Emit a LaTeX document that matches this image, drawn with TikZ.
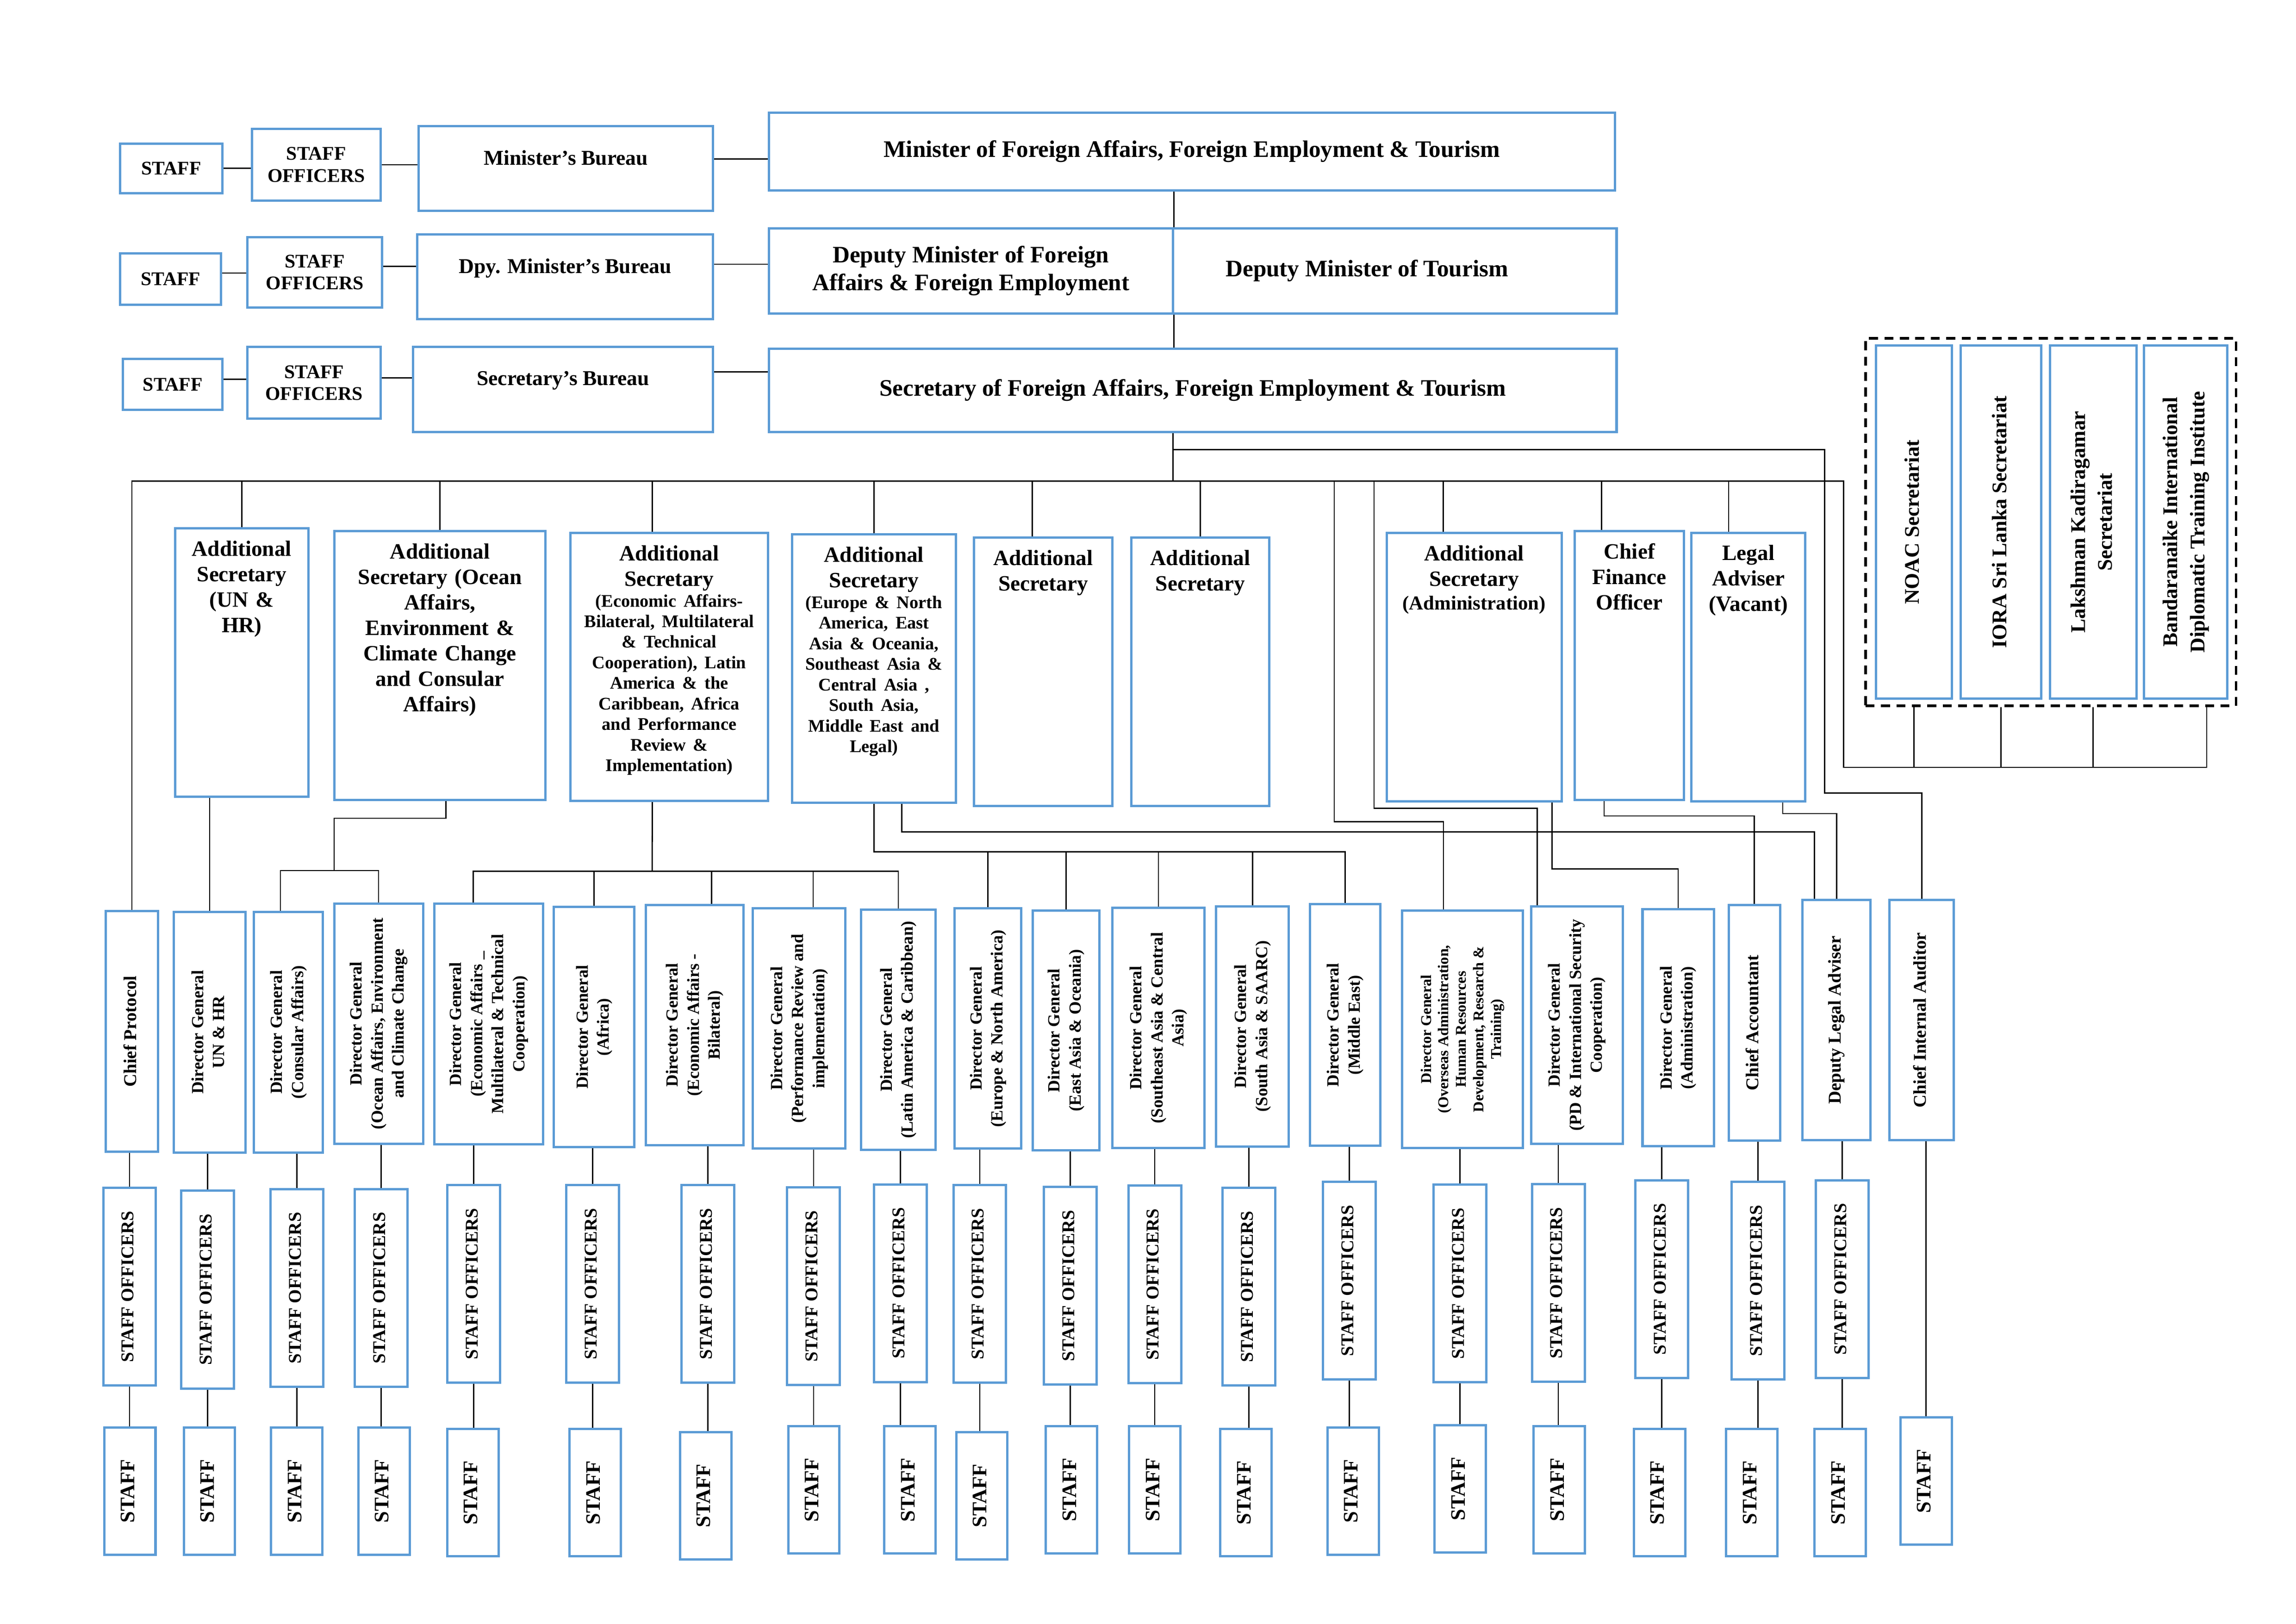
\documentclass[tikz,border=0pt]{standalone}
\usepackage{fontspec}
\setmainfont{Liberation Serif}
\usepackage{graphicx}
\definecolor{boxblue}{RGB}{91,155,213}
\newcommand{\vlab}[1]{\rotatebox{90}{\makebox[0pt]{\begin{tabular}{@{}c@{}}#1\end{tabular}}}}
\begin{document}
\begin{tikzpicture}[x=0.02cm, y=-0.02cm,
    box/.style={draw=boxblue, line width=0.9pt, fill=white, inner sep=1pt},
    boxspan/.style n args={4}{at={({(#1+#3)/2},{(#2+#4)/2})}, minimum width={(#3-#1)*0.02cm}, minimum height={(#4-#2)*0.02cm}},
    link/.style={line width=0.5pt},
    mainfont/.style={font=\bfseries\fontsize{9.2}{10.8}\selectfont, align=center},
    smallfont/.style={font=\bfseries\fontsize{7.5}{8.5}\selectfont, align=center},
    burtext/.style={anchor=north, inner sep=0pt, yshift=-0.34cm, font=\bfseries\fontsize{8.2}{10}\selectfont},
    astext/.style={anchor=north, inner sep=0pt, yshift=-0.18cm, text width=2.8cm, align=center, font=\bfseries\fontsize{8.5}{9.9}\selectfont},
    dgfont/.style={font=\bfseries\fontsize{6.6}{8.2}\selectfont},
    dgone/.style={font=\bfseries\fontsize{7}{8.2}\selectfont},
    dgsmall/.style={font=\bfseries\fontsize{5.8}{6.8}\selectfont},
    secfont/.style={font=\bfseries\fontsize{8.1}{10.5}\selectfont},
    sofont/.style={font=\bfseries\fontsize{7}{8}\selectfont, minimum width=0.72cm, minimum height=2.7cm},
    stfont/.style={font=\bfseries\fontsize{8}{9}\selectfont, minimum width=0.7cm, minimum height=1.74cm}]
  \useasboundingbox (0,0) rectangle (1568,1109);

  % minister, deputies, secretary
  \node[box, smallfont, boxspan={82}{98}{152}{132}] (mstaff) {STAFF};
  \node[box, smallfont, boxspan={172}{88}{260}{137}] (moff) {STAFF\\OFFICERS};
  \node[box, boxspan={286}{86}{487}{144}, label={[burtext]north:{Minister's Bureau}}] (mbur) {};
  \node[box, mainfont, boxspan={525}{77}{1103}{130}] (minister) {Minister of Foreign Affairs, Foreign Employment \& Tourism};
  \node[box, smallfont, boxspan={82}{173}{151}{208}] (dstaff) {STAFF};
  \node[box, smallfont, boxspan={169}{162}{261}{210}] (doff) {STAFF\\OFFICERS};
  \node[box, boxspan={285}{160}{487}{218}, label={[burtext]north:{Dpy. Minister's Bureau}}] (dbur) {};
  \node[box, mainfont, boxspan={525}{156}{801}{214}] (dmfa) {Deputy Minister of Foreign\\Affairs \& Foreign Employment};
  \node[box, mainfont, boxspan={801}{156}{1104}{214}] (dmt) {Deputy Minister of Tourism\hspace*{0.76cm}};
  \node[box, smallfont, boxspan={84}{245}{152}{280}] (sstaff) {STAFF};
  \node[box, smallfont, boxspan={169}{237}{260}{286}] (soff) {STAFF\\OFFICERS};
  \node[box, boxspan={282}{237}{487}{295}, label={[burtext]north:{Secretary's Bureau}}] (sbur) {};
  \node[box, mainfont, boxspan={525}{238}{1104}{295}] (secretary) {Secretary of Foreign Affairs, Foreign Employment \& Tourism};

  % secretariats
  \node[draw, line width=1pt, dash pattern=on 3.5pt off 2.5pt, boxspan={1274}{231}{1527}{482}] (grp) {};
  \node[box, secfont, boxspan={1281}{236}{1333}{477}] (noac) {\vlab{NOAC Secretariat}};
  \node[box, secfont, boxspan={1339}{236}{1394}{477}] (iora) {\vlab{IORA Sri Lanka Secretariat}};
  \node[box, secfont, boxspan={1400}{236}{1459}{477}] (lkis) {\vlab{Lakshman Kadiragamar\\Secretariat}};
  \node[box, secfont, boxspan={1464}{236}{1521}{477}] (bidti) {\vlab{Bandaranaike International\\Diplomatic Training Institute}};

  % additional secretaries
  \node[box, boxspan={119.5}{360.7}{210.7}{544.2}, label={[astext]north:{Additional\\Secretary\\(UN \&\\HR)}}] (asun) {};
  \node[box, boxspan={228.3}{362.7}{372.6}{546.2}, label={[astext]north:{Additional\\Secretary (Ocean\\Affairs,\\Environment \&\\Climate Change\\and Consular\\Affairs)}}] (asoc) {};
  \node[box, boxspan={389.4}{364}{524.6}{547}, label={[astext]north:{{Additional\\Secretary\endgraf}{\fontsize{6.9}{8}\selectfont(Economic Affairs-\\Bilateral, Multilateral\\\& Technical\\Cooperation), Latin\\America \& the\\Caribbean, Africa\\and Performance\\Review \&\\Implementation)\endgraf}}}] (asec) {};
  \node[box, boxspan={540.8}{365}{652.9}{548.2}, label={[astext]north:{{Additional\\Secretary\endgraf}{\fontsize{6.9}{8}\selectfont(Europe \& North\\America, East\\Asia \& Oceania,\\Southeast Asia \&\\Central Asia ,\\South Asia,\\Middle East and\\Legal)\endgraf}}}] (aseu) {};
  \node[box, boxspan={665.3}{367}{759.5}{550.4}, label={[astext]north:{Additional\\Secretary}}] (asx) {};
  \node[box, boxspan={772.6}{367}{866.8}{550.4}, label={[astext]north:{Additional\\Secretary}}] (asy) {};
  \node[box, boxspan={947}{364}{1066.4}{547.4}, label={[astext]north:{{Additional\\Secretary\endgraf}{\fontsize{7.7}{9.1}\selectfont(Administration)\endgraf}}}] (asad) {};
  \node[box, boxspan={1075.5}{362.7}{1150}{546.3}, label={[astext]north:{Chief\\Finance\\Officer}}] (cfo) {};
  \node[box, boxspan={1155.2}{363.8}{1232.8}{547.1}, label={[astext]north:{Legal\\Adviser\\(Vacant)}}] (lgl) {};

  % directors general
  \node[box, dgone, boxspan={72.3}{622.3}{107.8}{786.4}] (dg1) {\vlab{Chief Protocol}};
  \node[box, dgfont, boxspan={118.7}{622.8}{167.7}{787}] (dg2) {\vlab{Director General\\UN \& HR}};
  \node[box, dgfont, boxspan={173.5}{622.8}{220.6}{787}] (dg3) {\vlab{Director General\\(Consular Affairs)}};
  \node[box, dgfont, boxspan={228.2}{617}{288.9}{781}] (dg4) {\vlab{Director General\\(Ocean Affairs, Environment\\and Climate Change}};
  \node[box, dgfont, boxspan={296.5}{617.2}{370.9}{781.4}] (dg5) {\vlab{Director General\\(Economic Affairs \_\\Multilateral \& Technical\\Cooperation)}};
  \node[box, dgfont, boxspan={378.2}{619.2}{433.3}{783.5}] (dg6) {\vlab{Director General\\(Africa)}};
  \node[box, dgfont, boxspan={441.2}{618}{507.6}{782}] (dg7) {\vlab{Director General\\(Economic Affairs -\\Bilateral)}};
  \node[box, dgfont, boxspan={514.2}{620.4}{577.4}{784.4}] (dg8) {\vlab{Director General\\(Performance Review and\\implementation)}};
  \node[box, dgfont, boxspan={588}{621.2}{639}{785.3}] (dg9) {\vlab{Director General\\(Latin America \& Caribbean)}};
  \node[box, dgfont, boxspan={652}{620.3}{697.5}{784.4}] (dg10) {\vlab{Director General\\(Europe \& North America)}};
  \node[box, dgfont, boxspan={705.4}{621.7}{750.8}{785.7}] (dg11) {\vlab{Director General\\(East Asia \& Oceania)}};
  \node[box, dgfont, boxspan={759.5}{620}{822.7}{784}] (dg12) {\vlab{Director General\\(Southeast Asia \& Central\\Asia)}};
  \node[box, dgfont, boxspan={830.5}{618.9}{880.1}{782.9}] (dg13) {\vlab{Director General\\(South Asia \& SAARC)}};
  \node[box, dgfont, boxspan={894.5}{617.4}{942.7}{782.5}] (dg14) {\vlab{Director General\\(Middle East)}};
  \node[box, dgsmall, boxspan={957.6}{621.7}{1040}{784}] (dg15) {\vlab{Director General\\(Overseas Administration,\\Human Resources\\Development, Research \&\\Training)}};
  \node[box, dgfont, boxspan={1045.6}{619}{1108.2}{781}] (dg16) {\vlab{Director General\\(PD \& International Security\\Cooperation)}};
  \node[box, dgfont, boxspan={1121.7}{621}{1170.4}{782.8}] (dg17) {\vlab{Director General\\(Administration)}};
  \node[box, dgone, boxspan={1180.5}{617.9}{1215.8}{779}] (dg18) {\vlab{Chief Accountant}};
  \node[box, dgone, boxspan={1231}{614.6}{1277.4}{778.7}] (dg19) {\vlab{Deputy Legal Adviser}};
  \node[box, dgone, boxspan={1290.4}{614.6}{1334.4}{778.7}] (dg20) {\vlab{Chief Internal Auditor}};

  % staff officers and staff
  \foreach \i/\x/\y in {1/88.5/878.7, 2/141.8/880.7, 3/202.7/879.5, 4/260.3/879.5, 5/323.6/876.7,
      6/404.7/876.7, 7/483.5/876.7, 8/555.6/878.3, 9/614.8/876.3, 10/669.1/876.7, 11/730.9/878,
      12/788.6/877.2, 13/852.8/878.7, 14/921.4/874.5, 15/997/876.5, 16/1064.2/876.1,
      17/1134.9/873.5, 18/1200.5/874.5, 19/1258.1/873.5}
    \node[box, sofont] (so\i) at (\x,\y) {\vlab{STAFF OFFICERS}};
  \foreach \i/\x/\y in {1/88.7/1018.3, 2/143/1018.3, 3/202.7/1018.3, 4/262.3/1018.3, 5/323/1019.4,
      6/406.5/1019.4, 7/481.9/1021.4, 8/555.8/1017.5, 9/621.4/1017.5, 10/670.5/1021.4,
      11/731.7/1017.4, 12/788.6/1017.4, 13/850.9/1019.4, 14/924.1/1018.3, 15/997.2/1016.7,
      16/1064.9/1017.4, 17/1133.3/1019.4, 18/1196.3/1019.4, 19/1256.7/1019.4, 20/1315.4/1011.5}
    \node[box, stfont] (st\i) at (\x,\y) {\vlab{STAFF}};

  % top rows
  \draw[link] (mstaff.east) -- (mstaff.east -| moff.west);
  \draw[link] (moff.east) -- (moff.east -| mbur.west);
  \draw[link] ([yshift=-0.1cm]minister.west) -- ([yshift=-0.1cm]minister.west -| mbur.east);
  \draw[link] ([yshift=0.08cm]dstaff.east) -- ([yshift=0.08cm]dstaff.east -| doff.west);
  \draw[link] ([yshift=0.08cm]doff.east) -- ([yshift=0.08cm]doff.east -| dbur.west);
  \draw[link] ([yshift=0.09cm]dmfa.west) -- ([yshift=0.09cm]dmfa.west -| dbur.east);
  \draw[link] ([yshift=0.07cm]sstaff.east) -- ([yshift=0.07cm]sstaff.east -| soff.west);
  \draw[link] ([yshift=0.07cm]soff.east) -- ([yshift=0.07cm]soff.east -| sbur.west);
  \draw[link] ([yshift=0.25cm]secretary.west) -- ([yshift=0.25cm]secretary.west -| sbur.east);
  \draw[link] (minister.south -| dmfa.east) -- (dmfa.north east);
  \draw[link] (dmfa.south east) -- (secretary.north -| dmfa.east);

  % main bus
  \coordinate (bus) at (801,328.5);
  \coordinate (busend) at (1259,328.5);
  \coordinate (secturn) at (1259,524);
  \coordinate (audtop) at (1246,307);
  \coordinate (audturn) at (1246,541.6);
  \draw[link] (secretary.south -| bus) -- (bus);
  \draw[link] (audtop -| bus) -- (audtop) -- (audturn) -| (dg20.north);
  \draw[link] (dg1.north) |- (busend) -- (secturn) -| ([xshift=0.29cm]bidti.south |- grp.south);
  \foreach \s in {noac,iora,lkis}
    \draw[link] (\s.south |- grp.south) -- (\s.south |- secturn);
  \foreach \a in {asun,asoc,aseu,asy}
    \draw[link] (\a.north) |- (bus);
  \draw[link] ([xshift=-0.23cm]asec.north) |- (bus);
  \draw[link] ([xshift=-0.15cm]asx.north) |- (bus);
  \draw[link] ([xshift=-0.42cm]asad.north) |- (bus);
  \draw[link] ([xshift=-0.38cm]cfo.north) |- (bus);
  \draw[link] ([xshift=-0.27cm]lgl.north) |- (bus);

  % additional secretaries to directors general
  \coordinate (ovturn) at (911.2,561.2);
  \coordinate (pdturn) at (938.4,552.1);
  \draw[link] (ovturn |- bus) -- (ovturn) -| ([xshift=-0.26cm]dg15.north);
  \draw[link] (pdturn |- bus) -- (pdturn) -| ([xshift=-0.54cm]dg16.north);
  \draw[link] (dg2.north |- asun.south) -- (dg2.north);
  \coordinate (octurn) at (228.2,558.8);
  \coordinate (ocbus) at (228.2,594.5);
  \draw[link] ([xshift=0.08cm]asoc.south) |- (octurn) -- (ocbus);
  \draw[link] ([xshift=-0.11cm]dg3.north) |- (ocbus) -| (dg4.north);
  \coordinate (ecbus) at (445.4,595);
  \draw[link] ([xshift=-0.23cm]asec.south) -- (ecbus);
  \draw[link] ([xshift=-0.21cm]dg5.north) |- (ecbus) -| (dg9.north);
  \draw[link] (dg6.north) -- (dg6.north |- ecbus);
  \draw[link] ([xshift=0.23cm]dg7.north) -- ([xshift=0.23cm]dg7.north |- ecbus);
  \draw[link] ([xshift=0.19cm]dg8.north) -- ([xshift=0.19cm]dg8.north |- ecbus);
  \coordinate (eubus) at (594.4,581.7);
  \draw[link] (aseu.south) -- (aseu.south |- eubus) -| (dg14.north);
  \foreach \d in {dg10,dg11,dg12,dg13}
    \draw[link] (\d.north) -- (\d.north |- eubus);
  \coordinate (eulegal) at (615.8,568);
  \draw[link] (eulegal |- aseu.south) -- (eulegal) -| ([xshift=-0.3cm]dg19.north);
  \coordinate (adturn) at (1059.9,593.4);
  \draw[link] (adturn |- asad.south) -- (adturn) -| (dg17.north);
  \coordinate (cfturn) at (1095.5,557.2);
  \draw[link] (cfturn |- cfo.south) -- (cfturn) -| (dg18.north);
  \coordinate (lgturn) at (1217.5,555.6);
  \draw[link] (lgturn |- lgl.south) -- (lgturn) -| (dg19.north);

  % down to staff
  \foreach \i in {1,...,19} {
    \draw[link] (so\i.north) -- (so\i.north |- dg\i.south);
    \draw[link] (so\i.south) -- (so\i.south |- st\i.north);
  }
  \draw[link] (st20.north) -- (st20.north |- dg20.south);
\end{tikzpicture}
\end{document}
